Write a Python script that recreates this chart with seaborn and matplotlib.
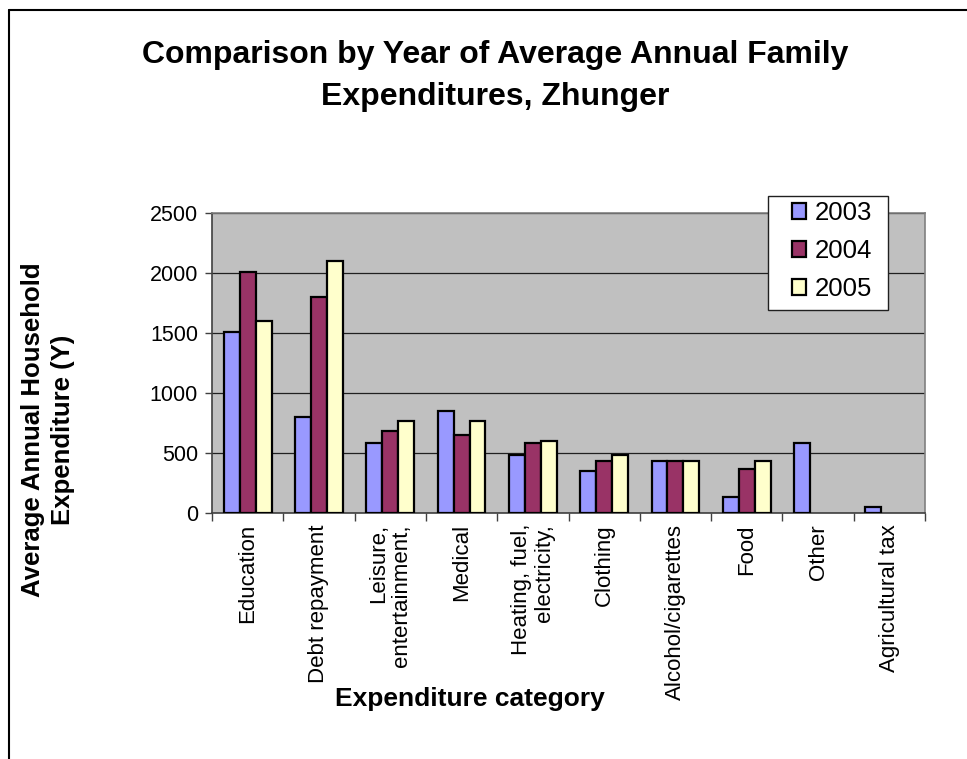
import numpy as np
import pandas as pd
import matplotlib
matplotlib.use("Agg")
import matplotlib.pyplot as plt
from matplotlib.lines import Line2D
from matplotlib.patches import Rectangle
from matplotlib.ticker import FixedLocator, MultipleLocator
import seaborn as sns

# Expenditure categories (labels as shown on the axis)
categories = [
    "Education",
    "Debt repayment",
    "Leisure,\nentertainment,",
    "Medical",
    "Heating, fuel,\nelectricity,",
    "Clothing",
    "Alcohol/cigarettes",
    "Food",
    "Other",
    "Agricultural tax",
]
years = ["2003", "2004", "2005"]

# Average annual household expenditure (Y) per year
values_2003 = [1510, 800, 580, 850, 480, 350, 430, 130, 580, 50]
values_2004 = [2010, 1800, 685, 650, 580, 430, 430, 365, np.nan, np.nan]
values_2005 = [1600, 2100, 765, 765, 600, 480, 430, 430, np.nan, np.nan]

y_ticks = [0, 500, 1000, 1500, 2000, 2500]
bar_colors = ["#9999FF", "#993366", "#FFFFCC"]

df = pd.DataFrame({
    "category": categories * 3,
    "year": [y for y in years for _ in categories],
    "value": values_2003 + values_2004 + values_2005,
})

sns.set_style("white")
plt.rcParams["font.family"] = ["Liberation Sans", "DejaVu Sans"]
plt.rcParams["text.color"] = "black"
plt.rcParams["axes.labelcolor"] = "black"
plt.rcParams["xtick.color"] = "black"
plt.rcParams["ytick.color"] = "black"

fig = plt.figure(figsize=(9.67, 7.59), dpi=100)
ax = fig.add_axes([212 / 967, 1 - 513 / 759, 713 / 967, 300 / 759])

sns.barplot(
    data=df, x="category", y="value", hue="year", order=categories,
    hue_order=years, palette=bar_colors, edgecolor="black", linewidth=1.6,
    width=0.67, gap=0, errorbar=None, ax=ax, zorder=3, saturation=1,
)

ax.set_facecolor("#C0C0C0")
ax.set_xlim(-0.5, len(categories) - 0.5)
ax.set_ylim(0, 2500)
ax.yaxis.set_major_locator(FixedLocator(y_ticks))
ax.set_yticklabels([str(t) for t in y_ticks], fontsize=15.5)
ax.grid(axis="y", color="#202020", linewidth=0.9, zorder=0)
ax.set_axisbelow(True)

# category labels centred, tick marks at group boundaries
ax.set_xticks(range(len(categories)))
ax.set_xticklabels(categories, rotation=90, fontsize=16, va="top",
                   ha="center", multialignment="right", linespacing=1.1)
ax.xaxis.set_minor_locator(MultipleLocator(1, offset=0.5))
ax.tick_params(axis="x", which="major", length=0, pad=8)
ax.tick_params(axis="x", which="minor", length=6, width=1, color="#404040",
               direction="out", bottom=True)
ax.tick_params(axis="y", which="major", length=5, width=1, color="#404040",
               direction="out", left=True, pad=5)

for side in ("top", "right"):
    ax.spines[side].set_color("#808080")
    ax.spines[side].set_linewidth(1.2)
for side in ("left", "bottom"):
    ax.spines[side].set_color("#404040")
    ax.spines[side].set_linewidth(1.2)

ax.set_xlabel("")
ax.set_ylabel("")

fig.text(470 / 967, 1 - 699 / 759, "Expenditure category",
         ha="center", va="center", fontsize=19, fontweight="bold")
fig.text(48 / 967, 1 - 430 / 759, "Average Annual Household\nExpenditure (Y)",
         ha="center", va="center", rotation=90, fontsize=18.5,
         fontweight="bold", linespacing=1.35)

# legend: white box with the year entries inside
handles, labels = ax.get_legend_handles_labels()
if ax.get_legend() is not None:
    ax.get_legend().remove()
fig.add_artist(Rectangle((768 / 967, 1 - 310 / 759), 120 / 967, 114 / 759,
                         transform=fig.transFigure, facecolor="white",
                         edgecolor="#202020", linewidth=1.0, zorder=4))
leg = fig.legend(
    handles, labels, loc="upper left",
    bbox_to_anchor=(792 / 967, 1 - 201 / 759), bbox_transform=fig.transFigure,
    fontsize=18.5, frameon=False, handlelength=0.55, handleheight=0.55,
    handletextpad=0.32, labelspacing=0.55, borderpad=0, borderaxespad=0,
)
leg.set_zorder(5)

fig.text(495 / 967, 1 - 55 / 759, "Comparison by Year of Average Annual Family",
         ha="center", va="center", fontsize=23, fontweight="bold")
fig.text(495 / 967, 1 - 97 / 759, "Expenditures, Zhunger",
         ha="center", va="center", fontsize=23, fontweight="bold")

# outer chart frame (top and left edges)
fig.add_artist(Line2D([8.5 / 967, 1], [1 - 10 / 759, 1 - 10 / 759],
                      transform=fig.transFigure, color="black", linewidth=1.5))
fig.add_artist(Line2D([8.5 / 967, 8.5 / 967], [0, 1 - 10 / 759],
                      transform=fig.transFigure, color="black", linewidth=1.5))

fig.savefig("out.png", dpi=100, facecolor="white")
